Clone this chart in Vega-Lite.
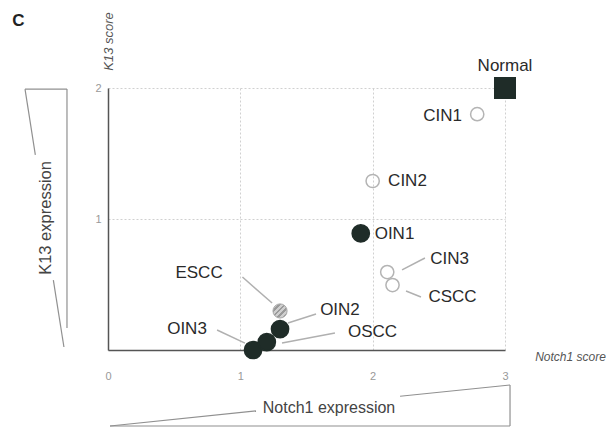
{
  "$schema": "https://vega.github.io/schema/vega-lite/v6.json",
  "width": 397,
  "height": 262,
  "autosize": {"type": "none"},
  "padding": {"left": 108, "top": 88, "right": 101, "bottom": 77},
  "background": "white",
  "config": {"view": {"stroke": null}, "font": "Liberation Sans"},
  "layer": [
    {
      "data": {"values": [
        {"label": "ESCC", "x1": 1.016, "y1": 0.557, "x2": 1.24, "y2": 0.359},
        {"label": "OIN3", "x1": 0.824, "y1": 0.153, "x2": 1.035, "y2": 0.053},
        {"label": "OIN2", "x1": 1.36, "y1": 0.206, "x2": 1.572, "y2": 0.275},
        {"label": "OSCC", "x1": 1.315, "y1": 0.053, "x2": 1.715, "y2": 0.13},
        {"label": "CIN3", "x1": 2.222, "y1": 0.611, "x2": 2.395, "y2": 0.702},
        {"label": "CSCC", "x1": 2.252, "y1": 0.45, "x2": 2.365, "y2": 0.405}
      ]},
      "mark": {"type": "rule", "color": "#b0b0b0", "strokeWidth": 1.5},
      "encoding": {
        "x": {"field": "x1", "type": "quantitative", "scale": {"domain": [0, 3], "nice": false, "zero": false},
          "axis": {"title": null, "values": [0, 1, 2, 3], "format": "d", "ticks": false, "labelPadding": 20, "labelFontSize": 11, "labelColor": "#999", "labelFlush": false,
            "domainColor": "#555", "domainWidth": 1.5, "grid": true, "gridColor": "#d0d0d0", "gridDash": [2, 2], "gridWidth": 1}},
        "y": {"field": "y1", "type": "quantitative", "scale": {"domain": [0, 2], "nice": false, "zero": false},
          "axis": {"title": null, "values": [1, 2], "format": "d", "ticks": false, "labelPadding": 7, "labelFontSize": 11, "labelColor": "#999", "labelFlush": false,
            "domainColor": "#555", "domainWidth": 1.5, "grid": true, "gridColor": "#d0d0d0", "gridDash": [2, 2], "gridWidth": 1}},
        "x2": {"field": "x2"},
        "y2": {"field": "y2"}
      }
    },
    {
      "data": {"values": [
        {"part": "K13 top", "x1": -0.627, "y1": 1.992, "x2": -0.31, "y2": 1.992},
        {"part": "K13 side", "x1": -0.31, "y1": 1.992, "x2": -0.31, "y2": 0.168},
        {"part": "K13 slope a", "x1": -0.627, "y1": 1.992, "x2": -0.549, "y2": 1.489},
        {"part": "K13 slope b", "x1": -0.413, "y1": 0.534, "x2": -0.333, "y2": 0.023},
        {"part": "Notch1 base", "x1": 0.015, "y1": -0.58, "x2": 3.038, "y2": -0.58},
        {"part": "Notch1 side", "x1": 3.038, "y1": -0.58, "x2": 3.038, "y2": -0.267},
        {"part": "Notch1 slope a", "x1": 0.015, "y1": -0.58, "x2": 1.118, "y2": -0.464},
        {"part": "Notch1 slope b", "x1": 2.207, "y1": -0.353, "x2": 3.038, "y2": -0.267}
      ]},
      "mark": {"type": "rule", "color": "#909090", "strokeWidth": 1.2},
      "encoding": {
        "x": {"field": "x1", "type": "quantitative"},
        "y": {"field": "y1", "type": "quantitative"},
        "x2": {"field": "x2"},
        "y2": {"field": "y2"}
      }
    },
    {
      "data": {"values": [
        {"name": "Normal", "x": 3.0, "y": 2.0, "kind": "Normal"},
        {"name": "CIN1", "x": 2.79, "y": 1.8, "kind": "Open"},
        {"name": "CIN2", "x": 2.0, "y": 1.29, "kind": "Open"},
        {"name": "OIN1", "x": 1.91, "y": 0.89, "kind": "Filled"},
        {"name": "CIN3", "x": 2.11, "y": 0.595, "kind": "Open"},
        {"name": "CSCC", "x": 2.15, "y": 0.496, "kind": "Open"},
        {"name": "OIN3", "x": 1.096, "y": 0.0, "kind": "Filled"},
        {"name": "OSCC", "x": 1.2, "y": 0.061, "kind": "Filled"},
        {"name": "OIN2", "x": 1.3, "y": 0.16, "kind": "Filled"}
      ]},
      "mark": {"type": "point", "filled": false, "strokeWidth": 1.5, "opacity": 1},
      "encoding": {
        "x": {"field": "x", "type": "quantitative"},
        "y": {"field": "y", "type": "quantitative"},
        "shape": {"field": "kind", "type": "nominal", "legend": null, "scale": {"domain": ["Normal", "Filled", "Open"], "range": ["square", "circle", "circle"]}},
        "fill": {"field": "kind", "type": "nominal", "legend": null, "scale": {"domain": ["Normal", "Filled", "Open"], "range": ["#1f2c28", "#1f2c28", "transparent"]}},
        "stroke": {"field": "kind", "type": "nominal", "legend": null, "scale": {"domain": ["Normal", "Filled", "Open"], "range": ["#1f2c28", "#1f2c28", "#b4b4b4"]}},
        "size": {"field": "kind", "type": "nominal", "legend": null, "scale": {"domain": ["Normal", "Filled", "Open"], "range": [420, 175, 180]}}
      }
    },
    {
      "data": {"values": [
        {"name": "ESCC", "x": 1.3, "y": 0.298}
      ]},
      "mark": {"type": "point", "shape": "circle", "size": 200, "strokeWidth": 1, "stroke": "#a8a8a8", "opacity": 1,
        "fill": {"gradient": "linear", "x1": 0, "y1": 0, "x2": 1, "y2": 1, "stops": [
          {"offset": 0, "color": "#9a9a9a"}, {"offset": 0.1, "color": "#9a9a9a"}, {"offset": 0.1, "color": "#cfcfcf"}, {"offset": 0.2, "color": "#cfcfcf"},
          {"offset": 0.2, "color": "#9a9a9a"}, {"offset": 0.3, "color": "#9a9a9a"}, {"offset": 0.3, "color": "#cfcfcf"}, {"offset": 0.4, "color": "#cfcfcf"},
          {"offset": 0.4, "color": "#9a9a9a"}, {"offset": 0.5, "color": "#9a9a9a"}, {"offset": 0.5, "color": "#cfcfcf"}, {"offset": 0.6, "color": "#cfcfcf"},
          {"offset": 0.6, "color": "#9a9a9a"}, {"offset": 0.7, "color": "#9a9a9a"}, {"offset": 0.7, "color": "#cfcfcf"}, {"offset": 0.8, "color": "#cfcfcf"},
          {"offset": 0.8, "color": "#9a9a9a"}, {"offset": 0.9, "color": "#9a9a9a"}, {"offset": 0.9, "color": "#cfcfcf"}, {"offset": 1, "color": "#cfcfcf"}
        ]}},
      "encoding": {
        "x": {"field": "x", "type": "quantitative"},
        "y": {"field": "y", "type": "quantitative"}
      }
    },
    {
      "data": {"values": [
        {"name": "Normal", "lx": 3.0, "ly": 2.168},
        {"name": "CIN1", "lx": 2.528, "ly": 1.786},
        {"name": "CIN2", "lx": 2.263, "ly": 1.29},
        {"name": "OIN1", "lx": 2.165, "ly": 0.885},
        {"name": "CIN3", "lx": 2.581, "ly": 0.695},
        {"name": "CSCC", "lx": 2.603, "ly": 0.408},
        {"name": "ESCC", "lx": 0.688, "ly": 0.584},
        {"name": "OIN3", "lx": 0.597, "ly": 0.164},
        {"name": "OIN2", "lx": 1.753, "ly": 0.305},
        {"name": "OSCC", "lx": 1.999, "ly": 0.141}
      ]},
      "mark": {"type": "text", "fontSize": 17, "color": "#2a2a2a", "align": "center", "baseline": "middle"},
      "encoding": {
        "x": {"field": "lx", "type": "quantitative"},
        "y": {"field": "ly", "type": "quantitative"},
        "text": {"field": "name"}
      }
    },
    {
      "data": {"values": [{"text": "C", "lx": -0.678, "ly": 2.508}]},
      "mark": {"type": "text", "fontSize": 17, "fontWeight": "bold", "color": "#222", "align": "center", "baseline": "middle"},
      "encoding": {"x": {"field": "lx", "type": "quantitative"}, "y": {"field": "ly", "type": "quantitative"}, "text": {"field": "text"}}
    },
    {
      "data": {"values": [{"text": "K13 score", "lx": 0.008, "ly": 2.355}]},
      "mark": {"type": "text", "fontSize": 13, "fontStyle": "italic", "color": "#555", "align": "center", "baseline": "middle", "angle": 270},
      "encoding": {"x": {"field": "lx", "type": "quantitative"}, "y": {"field": "ly", "type": "quantitative"}, "text": {"field": "text"}}
    },
    {
      "data": {"values": [{"text": "Notch1 score", "lx": 3.495, "ly": -0.053}]},
      "mark": {"type": "text", "fontSize": 12, "fontStyle": "italic", "color": "#555", "align": "center", "baseline": "middle"},
      "encoding": {"x": {"field": "lx", "type": "quantitative"}, "y": {"field": "ly", "type": "quantitative"}, "text": {"field": "text"}}
    },
    {
      "data": {"values": [{"text": "K13 expression", "lx": -0.469, "ly": 1.008}]},
      "mark": {"type": "text", "fontSize": 16.5, "color": "#444", "align": "center", "baseline": "middle", "angle": 270},
      "encoding": {"x": {"field": "lx", "type": "quantitative"}, "y": {"field": "ly", "type": "quantitative"}, "text": {"field": "text"}}
    },
    {
      "data": {"values": [{"text": "Notch1 expression", "lx": 1.67, "ly": -0.443}]},
      "mark": {"type": "text", "fontSize": 16, "color": "#444", "align": "center", "baseline": "middle"},
      "encoding": {"x": {"field": "lx", "type": "quantitative"}, "y": {"field": "ly", "type": "quantitative"}, "text": {"field": "text"}}
    }
  ]
}
